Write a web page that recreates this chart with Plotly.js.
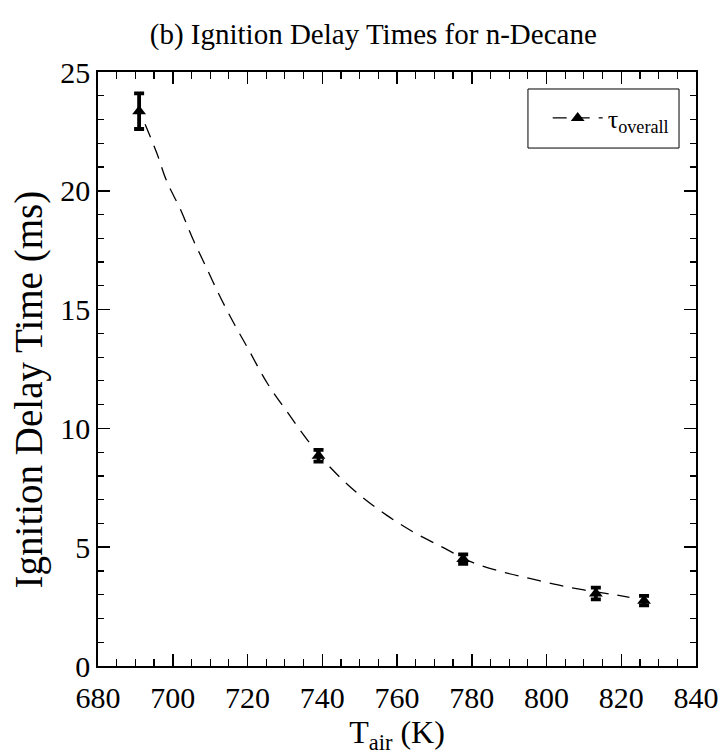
<!DOCTYPE html>
<html>
<head>
<meta charset="utf-8">
<script src="https://cdn.plot.ly/plotly-3.0.1.min.js"></script>
<style>html,body{margin:0;padding:0;background:#fff;}#chart{width:722px;height:755px;}</style>
</head>
<body>
<div id="chart"></div>
<script>
// Measured ignition delay times
const tAir = [691, 739, 777.7, 813.2, 826.1];
const tauOverall = [23.35, 8.85, 4.5, 3.05, 2.75];
const tauError = [0.75, 0.25, 0.2, 0.25, 0.2];

// Dashed fit curve
const fitT = [692.6, 695.7, 698.4, 702.1, 705.3, 708.9, 712.8, 716.6, 720, 725.3, 730.6, 736.1, 742.5, 749.6, 757.2, 764.8, 772.8, 779.5, 787.9, 795.5, 803.1, 810, 818.2, 822.2];
const fitTau = [22.8, 21.6, 20.4, 19.2, 18.0, 16.8, 15.5, 14.35, 13.4, 11.9, 10.7, 9.5, 8.3, 7.25, 6.35, 5.6, 4.95, 4.4, 3.97, 3.69, 3.41, 3.2, 3.0, 2.89];

const xTicks = [680, 700, 720, 740, 760, 780, 800, 820, 840];
const yTicks = [0, 5, 10, 15, 20, 25];
const seriesName = 'τ<sub>overall</sub>';
const yTitle = 'Ignition Delay Time (ms)';

const FONT = '"Liberation Serif", "Times New Roman", Times, serif';

const traces = [
  {
    x: fitT, y: fitTau, mode: 'lines', showlegend: false, hoverinfo: 'skip',
    line: {color: '#000', width: 1.3, dash: '14px,9px', shape: 'spline'}
  },
  {
    x: tAir, y: tauOverall, mode: 'markers', showlegend: false,
    marker: {symbol: 'triangle-up', size: 12, color: '#000'},
    error_y: {type: 'data', array: tauError, visible: true, color: '#000', thickness: 3.8, width: 5}
  },
  {
    x: [null], y: [null], mode: 'lines+markers', name: seriesName,
    line: {color: '#000', width: 1.3, dash: '14px,9px'},
    marker: {symbol: 'triangle-up', size: 12, color: '#000'}
  }
];

const axisCommon = {
  showline: true, linecolor: '#000', linewidth: 1.8, mirror: 'ticks',
  ticks: 'inside', ticklen: 12, tickwidth: 1.5, tickcolor: '#000',
  showgrid: false, zeroline: false,
  tickfont: {family: FONT, size: 30, color: '#000'}
};

const layout = {
  width: 722, height: 755,
  margin: {l: 98, r: 26, t: 72, b: 89},
  paper_bgcolor: '#fff', plot_bgcolor: '#fff',
  font: {family: FONT, color: '#000'},
  title: {text: '(b) Ignition Delay Times for n-Decane', font: {family: FONT, size: 29, color: '#000'}, x: 0.517, xanchor: 'center', y: 0.955, yanchor: 'middle'},
  xaxis: Object.assign({}, axisCommon, {
    range: [680, 840], tickvals: xTicks, ticktext: xTicks.map(String),
    ticklabelstandoff: 4,
    minor: {dtick: 5, tick0: 680, ticks: 'inside', ticklen: 7, tickwidth: 1.2, tickcolor: '#000'},
    title: {text: 'T<sub>air</sub> (K)', font: {family: FONT, size: 32, color: '#000'}, standoff: 21}
  }),
  yaxis: Object.assign({}, axisCommon, {
    range: [0, 25], tickvals: yTicks, ticktext: yTicks.map(String),
    minor: {dtick: 1, tick0: 0, ticks: 'inside', ticklen: 6, tickwidth: 1.2, tickcolor: '#000'}
  }),
  annotations: [
    {text: yTitle, xref: 'paper', yref: 'paper', x: -0.115, y: 0.466, xanchor: 'center', yanchor: 'middle',
     textangle: -90, showarrow: false, font: {family: FONT, size: 39, color: '#000'}}
  ],
  legend: {
    x: 0.752, xanchor: 'left', y: 0.9226, yanchor: 'middle',
    borderwidth: 0, bgcolor: 'rgba(0,0,0,0)',
    font: {family: FONT, size: 26, color: '#000'}, itemwidth: 50
  },
  shapes: [
    {type: 'rect', xref: 'paper', yref: 'paper', x0: 0.719, x1: 0.9716, y0: 0.872, y1: 0.9714,
     line: {color: '#000', width: 1}, fillcolor: 'rgba(0,0,0,0)', layer: 'above'}
  ]
};

Plotly.newPlot('chart', traces, layout, {displayModeBar: false, staticPlot: true});
</script>
</body>
</html>
